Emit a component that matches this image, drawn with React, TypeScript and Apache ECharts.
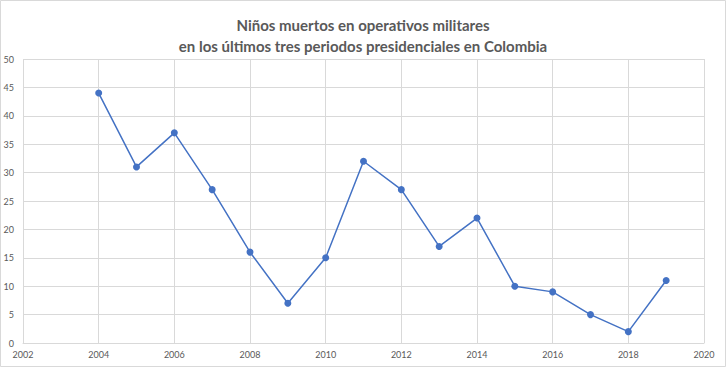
import React, { useEffect, useRef } from "react";
import * as echarts from "echarts";

const years = [2004, 2005, 2006, 2007, 2008, 2009, 2010, 2011, 2012, 2013, 2014, 2015, 2016, 2017, 2018, 2019];
const deaths = [44, 31, 37, 27, 16, 7, 15, 32, 27, 17, 22, 10, 9, 5, 2, 11];
const titleLines = ["Niños muertos en operativos militares", "en los últimos tres periodos presidenciales en Colombia"];

export default function App() {
  const ref = useRef<HTMLDivElement>(null);
  useEffect(() => {
    const chart = echarts.init(ref.current!, null, { renderer: "svg" });
    const font = "Lato, 'Open Sans', sans-serif";
    chart.setOption({
      animation: false,
      backgroundColor: "#ffffff",
      title: {
        text: titleLines.join("\n"),
        left: "center",
        top: 9,
        textStyle: { fontFamily: font, fontSize: 15, fontWeight: "bold", color: "#595959", lineHeight: 21 },
      },
      graphic: [
        {
          type: "rect",
          shape: { x: 0.5, y: 0.5, width: 725, height: 366 },
          style: { fill: "none", stroke: "#d9d9d9", lineWidth: 1 },
          silent: true,
        },
      ],
      grid: { left: 23, right: 22, top: 59, bottom: 24 },
      xAxis: {
        type: "value",
        min: 2002,
        max: 2020,
        interval: 2,
        axisLine: { show: true, lineStyle: { color: "#d9d9d9" } },
        axisTick: { show: false },
        splitLine: { show: true, lineStyle: { color: "#d9d9d9" } },
        axisLabel: { color: "#595959", fontSize: 9, fontFamily: font, margin: 7, formatter: (v: number) => String(v) },
      },
      yAxis: {
        type: "value",
        min: 0,
        max: 50,
        interval: 5,
        axisLine: { show: false },
        axisTick: { show: false },
        splitLine: { show: true, lineStyle: { color: "#d9d9d9" } },
        axisLabel: { color: "#595959", fontSize: 9, fontFamily: font, margin: 9 },
      },
      series: [
        {
          type: "line",
          data: years.map((y, i) => [y, deaths[i]]),
          symbol: "circle",
          symbolSize: 7,
          lineStyle: { color: "#4472C4", width: 1.5 },
          itemStyle: { color: "#4472C4" },
        },
      ],
    });
    return () => chart.dispose();
  }, []);
  return <div ref={ref} style={{ position: "absolute", left: 0, top: 0, width: 726, height: 367 }} />;
}
